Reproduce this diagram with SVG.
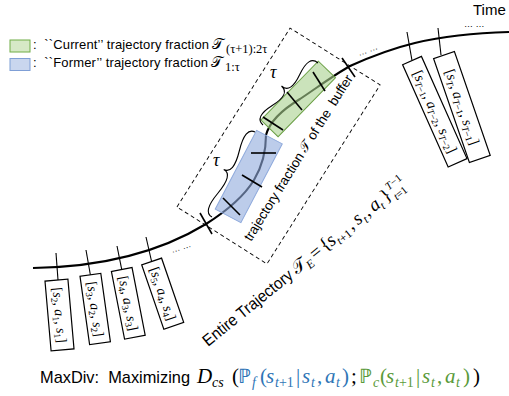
<svg xmlns="http://www.w3.org/2000/svg" width="509" height="396" viewBox="0 0 509 396">
<style>
.curve{fill:none;stroke:#000;stroke-width:2.1}
.tick{stroke:#000;stroke-width:1.6;fill:none}
.hang{stroke:#000;stroke-width:1.1;fill:none}
.box rect{fill:#fff;stroke:#000;stroke-width:1.2}
.bt{font-family:"Liberation Serif",serif;font-size:14px;fill:#000;text-anchor:middle}
.bt2{font-family:"Liberation Serif",serif;font-size:14.5px;fill:#000;text-anchor:middle}
.i{font-style:italic}
.sb{font-size:9.5px}
.sans{font-family:"Liberation Sans",Arial,sans-serif;fill:#000}
.lg{font-family:"Liberation Sans",Arial,sans-serif;font-size:13px;fill:#000}
.scr{font-family:"DejaVu Serif","DejaVu Sans",serif;font-style:normal}
.m{font-family:"Liberation Serif",serif;font-style:normal}
.mi{font-family:"Liberation Serif",serif;font-style:italic}
.tau{font-family:"Liberation Serif",serif;font-style:italic;font-size:18px;fill:#000}
.dots{font-family:"Liberation Sans",sans-serif;font-size:9px;fill:#000}
.brace{fill:none;stroke:#000;stroke-width:1.1}
.blue{fill:#2e75b6}
.green{fill:#5a9a3a}
.f{font-size:21px}
.s{font-size:14px}
</style>

<g id="legend">
<rect x="10" y="40" width="20" height="12" fill="#d6e9c6" stroke="#70ad47" stroke-width="1"/>
<rect x="10" y="58.5" width="20" height="12" fill="#c9d6ee" stroke="#7f9fd6" stroke-width="1"/>
<text x="33" y="49.3" class="lg" xml:space="preserve" textLength="176" lengthAdjust="spacing">:  ``Current’’ trajectory fraction</text>
<text x="212" y="49.3" class="scr" font-size="15">𝒯</text>
<text x="226" y="52.5" class="m" font-size="12.5">(τ+1):2τ</text>
<text x="33" y="67" class="lg" xml:space="preserve" textLength="175" lengthAdjust="spacing">:  ``Former’’ trajectory fraction</text>
<text x="211" y="67" class="scr" font-size="15">𝒯</text>
<text x="225" y="70.5" class="m" font-size="12.5">1:τ</text>
</g>

<g id="time">
<text x="473" y="15" class="sans" font-size="15">Time</text>
<text x="464" y="27" class="dots">… …</text>
</g>

<g id="connectors">
<path class="curve" d="M33,268 C100,267 160,252 206,224 C225,212 243,198 254,180 C263,165 266,150 266,135 C270,120 285,108 300,99 C318,87 334,75 350,66 C390,48 430,34 509,32"/>
<line class="hang" x1="56" y1="253" x2="58" y2="280"/>
<line class="hang" x1="86" y1="250" x2="90.4" y2="275"/>
<line class="hang" x1="117" y1="246" x2="121.7" y2="269.4"/>
<line class="hang" x1="146" y1="237" x2="151.6" y2="261.5"/>
<line class="hang" x1="407" y1="32" x2="412" y2="60.5"/>
<line class="hang" x1="438" y1="28" x2="441" y2="55"/>
</g>

<g id="former-fraction">
<rect transform="translate(248.75,176.5) rotate(-62.3)" x="-44.5" y="-14.5" width="89" height="29" fill="#8faadc" fill-opacity="0.6" stroke="#8faadc" stroke-width="1"/>
<line class="tick" x1="223" y1="198" x2="240" y2="215"/>
<line class="tick" x1="242" y1="175" x2="262" y2="187"/>
<line class="tick" x1="251" y1="153" x2="276" y2="153"/>
</g>

<g id="current-fraction">
<rect transform="translate(298.2,98.9) rotate(-45.7)" x="-41.1" y="-12" width="82.2" height="24" fill="#a9d18e" fill-opacity="0.6" stroke="#6a9f45" stroke-width="1"/>
<line class="tick" x1="263" y1="117" x2="283" y2="130"/>
<line class="tick" x1="287" y1="92" x2="302" y2="110"/>
<line class="tick" x1="313" y1="72" x2="325" y2="91"/>
</g>

<g id="buffer-fraction">
<rect transform="translate(278.5,146) rotate(-57.7)" x="-105.8" y="-53.25" width="211.7" height="106.5" fill="none" stroke="#000" stroke-width="0.9" stroke-dasharray="4 3"/>
<line class="tick" x1="200" y1="213" x2="212" y2="234"/>
<line class="tick" x1="342" y1="58" x2="355" y2="77"/>
<path class="brace" d="M212,217 Q202.2,212 217.85,193.25 T223.7,169.5 M255,132 Q245.2,127 239.35,150.75 T223.7,169.5"/>
<path class="brace" d="M263,125 Q254,117 272.25,105.5 T281.5,86 M318,63 Q309,55 299.75,74.5 T281.5,86"/>
<text x="213" y="166" class="tau">τ</text>
<text x="270" y="78" class="tau">τ</text>
<text transform="translate(251,242) rotate(-58)" class="sans" font-size="13.5" xml:space="preserve" textLength="193" lengthAdjust="spacing">trajectory fraction <tspan class="scr">𝒯</tspan> of the  buffer</text>
</g>

<g id="box-1" class="box" transform="translate(59.5,315) rotate(-5)">
<rect x="-11.5" y="-35" width="23" height="70"/>
<text class="bt" transform="rotate(90)" x="0" y="4.5">[<tspan class="i">s</tspan><tspan class="sb" dy="2.5">2</tspan><tspan dy="-2.5">, </tspan><tspan class="i">a</tspan><tspan class="sb" dy="2.5">1</tspan><tspan dy="-2.5">, </tspan><tspan class="i">s</tspan><tspan class="sb" dy="2.5">1</tspan><tspan dy="-2.5">]</tspan></text>
</g>
<g id="box-2" class="box" transform="translate(95.2,309) rotate(-8)">
<rect x="-10.5" y="-34.5" width="21" height="69"/>
<text class="bt" transform="rotate(90)" x="0" y="4.5">[<tspan class="i">s</tspan><tspan class="sb" dy="2.5">3</tspan><tspan dy="-2.5">, </tspan><tspan class="i">a</tspan><tspan class="sb" dy="2.5">2</tspan><tspan dy="-2.5">, </tspan><tspan class="i">s</tspan><tspan class="sb" dy="2.5">2</tspan><tspan dy="-2.5">]</tspan></text>
</g>
<g id="box-3" class="box" transform="translate(128.3,303.3) rotate(-11)">
<rect x="-10.5" y="-34.5" width="21" height="69"/>
<text class="bt" transform="rotate(90)" x="0" y="4.5">[<tspan class="i">s</tspan><tspan class="sb" dy="2.5">4</tspan><tspan dy="-2.5">, </tspan><tspan class="i">a</tspan><tspan class="sb" dy="2.5">3</tspan><tspan dy="-2.5">, </tspan><tspan class="i">s</tspan><tspan class="sb" dy="2.5">3</tspan><tspan dy="-2.5">]</tspan></text>
</g>
<g id="box-4" class="box" transform="translate(162.7,293.7) rotate(-19)">
<rect x="-10.5" y="-34" width="21" height="68"/>
<text class="bt" transform="rotate(90)" x="0" y="4.5">[<tspan class="i">s</tspan><tspan class="sb" dy="2.5">5</tspan><tspan dy="-2.5">, </tspan><tspan class="i">a</tspan><tspan class="sb" dy="2.5">4</tspan><tspan dy="-2.5">, </tspan><tspan class="i">s</tspan><tspan class="sb" dy="2.5">4</tspan><tspan dy="-2.5">]</tspan></text>
</g>
<text class="dots" transform="translate(172,253) rotate(-18)">… …</text>
<text class="dots" transform="translate(359,56) rotate(-20)">… …</text>

<g id="box-T-1" class="box" transform="translate(434.8,111.7) rotate(-24)">
<rect x="-10.3" y="-56" width="20.6" height="112"/>
<text class="bt2" transform="rotate(90)" x="0" y="4.5">[<tspan class="i">s</tspan><tspan class="sb" dy="2.5"><tspan class="i">T</tspan>−1</tspan><tspan dy="-2.5">, </tspan><tspan class="i">a</tspan><tspan class="sb" dy="2.5"><tspan class="i">T</tspan>−2</tspan><tspan dy="-2.5">, </tspan><tspan class="i">s</tspan><tspan class="sb" dy="2.5"><tspan class="i">T</tspan>−2</tspan><tspan dy="-2.5">]</tspan></text>
</g>
<g id="box-T" class="box" transform="translate(461.9,107) rotate(-19)">
<rect x="-11" y="-55" width="22" height="110"/>
<text class="bt2" transform="rotate(90)" x="0" y="4.5">[<tspan class="i">s</tspan><tspan class="sb i" dy="2.5">T</tspan><tspan dy="-2.5">, </tspan><tspan class="i">a</tspan><tspan class="sb" dy="2.5"><tspan class="i">T</tspan>−1</tspan><tspan dy="-2.5">, </tspan><tspan class="i">s</tspan><tspan class="sb" dy="2.5"><tspan class="i">T</tspan>−1</tspan><tspan dy="-2.5">]</tspan></text>
</g>

<g id="entire-label" transform="translate(208,347) rotate(-39)">
<text x="0" y="0" class="sans" font-size="16.5" textLength="111" lengthAdjust="spacingAndGlyphs">Entire Trajectory</text>
<text x="115" y="0" class="scr" font-size="18">𝒯</text>
<text x="128" y="4" class="mi" font-size="12">E</text>
<text x="138" y="0" class="m" font-size="19">=</text>
<text x="151" y="0" class="m" font-size="19">{</text>
<text x="159" y="0" class="mi" font-size="19">s</text>
<text x="167" y="4" class="mi" font-size="12">t<tspan class="m">+1</tspan></text>
<text x="185" y="0" class="m" font-size="19">,</text>
<text x="193" y="0" class="mi" font-size="19">s</text>
<text x="201" y="4" class="mi" font-size="12">t</text>
<text x="206" y="0" class="m" font-size="19">,</text>
<text x="214" y="0" class="mi" font-size="19">a</text>
<text x="223" y="4" class="mi" font-size="12">t</text>
<text x="229" y="0" class="m" font-size="19">}</text>
<text x="239" y="-8" class="mi" font-size="11">T<tspan class="m">−1</tspan></text>
<text x="239" y="5" class="mi" font-size="11">t<tspan class="m">=1</tspan></text>
</g>

<g id="objective">
<text x="40" y="383" class="sans" font-size="17" xml:space="preserve" textLength="150" lengthAdjust="spacingAndGlyphs">MaxDiv:  Maximizing</text>
<text class="mi f" x="197" y="383">D</text>
<text class="mi s" x="212" y="387">cs</text>
<text class="m f" x="232" y="383">(</text>
<g class="blue">
<text class="m" font-size="20" x="238" y="383">ℙ</text>
<text class="mi s" x="252" y="387">f</text>
<text class="m f" x="260" y="383">(</text>
<text class="mi f" x="266" y="383">s</text>
<text class="mi s" x="275" y="387">t<tspan class="m">+1</tspan></text>
<text class="m f" x="296" y="383">|</text>
<text class="mi f" x="302" y="383">s</text>
<text class="mi s" x="311" y="387">t</text>
<text class="m f" x="317" y="383">,</text>
<text class="mi f" x="325" y="383">a</text>
<text class="mi s" x="336" y="387">t</text>
<text class="m f" x="342" y="383">)</text>
</g>
<text class="m f" x="351" y="383">;</text>
<g class="green">
<text class="m" font-size="20" x="359" y="383">ℙ</text>
<text class="mi s" x="373" y="387">c</text>
<text class="m f" x="380" y="383">(</text>
<text class="mi f" x="386" y="383">s</text>
<text class="mi s" x="395" y="387">t<tspan class="m">+1</tspan></text>
<text class="m f" x="416" y="383">|</text>
<text class="mi f" x="422" y="383">s</text>
<text class="mi s" x="431" y="387">t</text>
<text class="m f" x="437" y="383">,</text>
<text class="mi f" x="445" y="383">a</text>
<text class="mi s" x="456" y="387">t</text>
<text class="m f" x="463" y="383">)</text>
</g>
<text class="m f" x="473" y="383">)</text>
</g>
</svg>
